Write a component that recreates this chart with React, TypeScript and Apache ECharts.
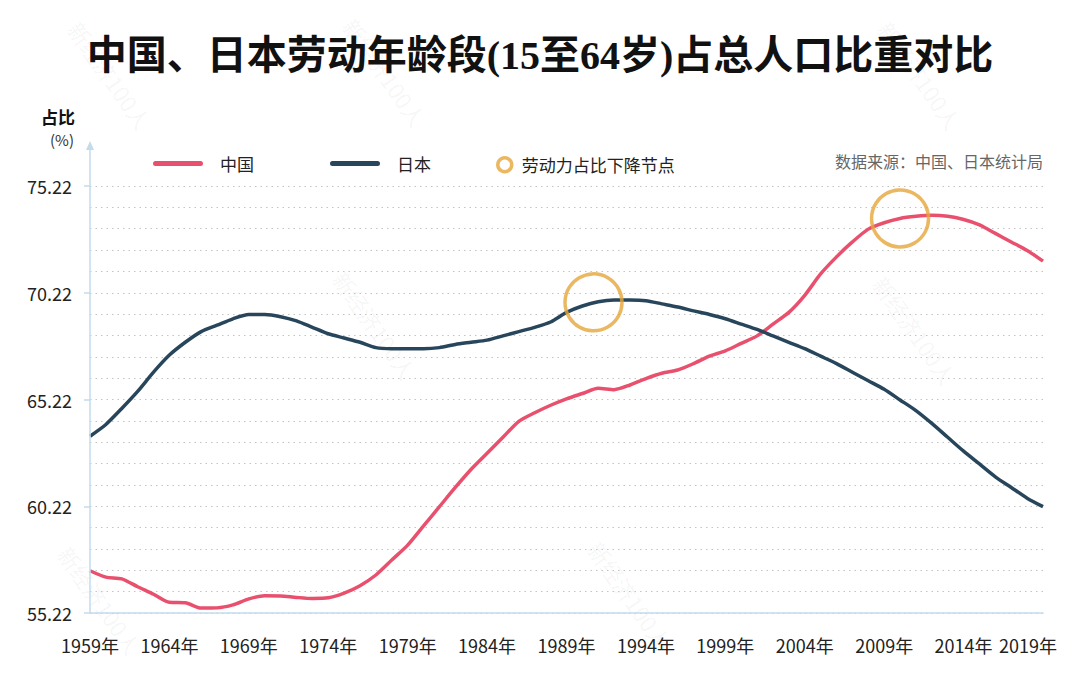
import React, { useEffect, useRef } from 'react';
import * as echarts from 'echarts';

const years = [
  1959, 1960, 1961, 1962, 1963, 1964, 1965, 1966, 1967, 1968,
  1969, 1970, 1971, 1972, 1973, 1974, 1975, 1976, 1977, 1978,
  1979, 1980, 1981, 1982, 1983, 1984, 1985, 1986, 1987, 1988,
  1989, 1990, 1991, 1992, 1993, 1994, 1995, 1996, 1997, 1998,
  1999, 2000, 2001, 2002, 2003, 2004, 2005, 2006, 2007, 2008,
  2009, 2010, 2011, 2012, 2013, 2014, 2015, 2016, 2017, 2018, 2019,
];

const chinaValues = [
  57.2, 56.9, 56.82, 56.45, 56.1, 55.72, 55.7, 55.45, 55.46, 55.6,
  55.88, 56.03, 56.02, 55.95, 55.9, 55.93, 56.15, 56.5, 57.0, 57.7,
  58.4, 59.3, 60.2, 61.1, 61.95, 62.7, 63.45, 64.2, 64.6, 64.95,
  65.25, 65.5, 65.75, 65.68, 65.9, 66.2, 66.45, 66.6, 66.9, 67.25,
  67.5, 67.85, 68.2, 68.75, 69.3, 70.1, 71.1, 71.9, 72.6, 73.2,
  73.5, 73.7, 73.8, 73.85, 73.8, 73.65, 73.4, 73.0, 72.6, 72.2, 71.7,
];

const japanValues = [
  63.5, 64.05, 64.8, 65.6, 66.5, 67.3, 67.9, 68.4, 68.7, 69.0,
  69.2, 69.2, 69.1, 68.9, 68.6, 68.3, 68.1, 67.9, 67.65, 67.6,
  67.6, 67.6, 67.65, 67.8, 67.9, 68.0, 68.2, 68.4, 68.6, 68.85,
  69.3, 69.6, 69.8, 69.88, 69.88, 69.85, 69.7, 69.55, 69.37, 69.2,
  69.0, 68.75, 68.5, 68.2, 67.9, 67.6, 67.25, 66.9, 66.5, 66.1,
  65.7, 65.2, 64.7, 64.1, 63.45, 62.8, 62.2, 61.6, 61.1, 60.6, 60.2,
];

// 劳动力占比下降节点 (year, value)
const dropNodes: [number, number][] = [
  [1990.7, 69.77],
  [2010.0, 73.7],
];

const yMin = 55.22;
const yMax = 75.22;
const xMin = 1959;
const xMax = 2019;

const FONT = '"Noto Sans CJK SC", "Noto Sans", sans-serif';
const RED = '#E8506D';
const NAVY = '#28465B';
const ORANGE = '#E6A63B';
const AXIS_BLUE = '#C3DBEA';

const LINE_ICON = 'path://M2.5,0 L47.5,0 A2.5,2.5 0 0 1 47.5,5 L2.5,5 A2.5,2.5 0 0 1 2.5,0 Z';

const watermarkSpots: [number, number][] = [
  [110, 75], [385, 72], [920, 75],
  [375, 325], [915, 330],
  [100, 600], [630, 595],
];

export default function App() {
  const ref = useRef<HTMLDivElement>(null);

  useEffect(() => {
    if (!ref.current) return;
    const chart = echarts.init(ref.current, undefined, { renderer: 'svg' });

    const china = years.map((y, i) => [y, chinaValues[i]]);
    const japan = years.map((y, i) => [y, japanValues[i]]);

    const watermarks = watermarkSpots.map(([x, y]) => ({
      type: 'text',
      x,
      y,
      rotation: (-55 * Math.PI) / 180,
      z: 0,
      silent: true,
      style: {
        text: '新经济100人',
        fontSize: 22,
        fontFamily: FONT,
        fill: 'rgba(0,0,0,0.05)',
        align: 'center',
        verticalAlign: 'middle',
      },
    }));

    const legendBase = {
      top: 155,
      padding: 0,
      itemWidth: 50,
      itemHeight: 16,
      textStyle: { fontSize: 17, color: '#222', fontFamily: FONT, padding: [0, 0, 0, 12] },
    };

    const option: any = {
      animation: false,
      backgroundColor: '#ffffff',
      title: {
        text: '中国、日本劳动年龄段(15至64岁)占总人口比重对比',
        left: 'center',
        top: 30,
        textStyle: {
          fontSize: 40,
          fontWeight: 'bold',
          color: '#111',
          fontFamily: '"Liberation Serif", "Noto Sans CJK SC", serif',
        },
      },
      legend: [
        {
          ...legendBase,
          left: 153,
          data: [{ name: '中国', icon: LINE_ICON, itemStyle: { color: RED } }],
        },
        {
          ...legendBase,
          left: 330,
          data: [{ name: '日本', icon: LINE_ICON, itemStyle: { color: NAVY } }],
        },
        {
          data: ['劳动力占比下降节点'],
          left: 496,
          top: 156,
          padding: 0,
          itemWidth: 14,
          itemHeight: 14,
          itemStyle: { borderWidth: 3.5, borderColor: ORANGE, color: 'rgba(0,0,0,0)' },
          textStyle: { fontSize: 17, color: '#222', fontFamily: FONT, padding: [0, 0, 0, 5] },
        },
      ],
      grid: { left: 90, right: 37, top: 186, bottom: 76, containLabel: false },
      xAxis: {
        type: 'value',
        min: xMin,
        max: xMax,
        interval: 5,
        axisLine: { show: true, lineStyle: { color: AXIS_BLUE, width: 1.5 } },
        axisTick: { show: false },
        splitLine: { show: false },
        axisLabel: {
          margin: 23,
          fontSize: 18,
          color: '#222',
          fontFamily: FONT,
          formatter: (v: number) => (v === xMax ? `{last|${v}年}` : `${v}年`),
          rich: {
            last: { fontSize: 18, color: '#222', fontFamily: FONT, padding: [0, 30, 0, 0] },
          },
        },
      },
      yAxis: [
        {
          type: 'value',
          min: yMin,
          max: yMax,
          interval: 1,
          axisLine: { show: false },
          axisTick: { show: false },
          axisLabel: { show: false },
          splitLine: {
            show: true,
            lineStyle: { color: '#C4C4C4', type: [1.5, 4], width: 1 },
          },
        },
        {
          type: 'value',
          min: yMin,
          max: yMax,
          interval: 5,
          position: 'left',
          axisLine: { show: false },
          axisTick: { show: true, length: 6, lineStyle: { color: AXIS_BLUE, width: 1.5 } },
          splitLine: { show: false },
          axisLabel: {
            margin: 18,
            fontSize: 18,
            color: '#222',
            fontFamily: FONT,
            formatter: (v: number) => v.toFixed(2),
          },
        },
      ],
      graphic: [
        ...watermarks,
        {
          type: 'line',
          silent: true,
          z: 5,
          shape: { x1: 90, y1: 613, x2: 90, y2: 144 },
          style: { stroke: AXIS_BLUE, lineWidth: 1.5 },
        },
        {
          type: 'polygon',
          silent: true,
          z: 5,
          shape: { points: [[86, 150], [90, 141], [94, 150]] },
          style: { fill: AXIS_BLUE },
        },
        {
          type: 'text',
          x: 75,
          y: 116,
          style: {
            text: '占比',
            fontSize: 17,
            fontWeight: 'bold',
            fontFamily: FONT,
            fill: '#111',
            align: 'right',
            verticalAlign: 'middle',
          },
        },
        {
          type: 'text',
          x: 74,
          y: 139,
          style: {
            text: '(%)',
            fontSize: 15,
            fontFamily: FONT,
            fill: '#333',
            align: 'right',
            verticalAlign: 'middle',
          },
        },
        {
          type: 'text',
          x: 1043,
          y: 161,
          style: {
            text: '数据来源：中国、日本统计局',
            fontSize: 16,
            fontFamily: FONT,
            fill: '#666',
            align: 'right',
            verticalAlign: 'middle',
          },
        },
      ],
      series: [
        {
          name: '中国',
          type: 'line',
          data: china,
          smooth: 0.25,
          symbol: 'none',
          showSymbol: false,
          z: 3,
          itemStyle: { color: RED },
          lineStyle: { color: RED, width: 3.5 },
        },
        {
          name: '日本',
          type: 'line',
          data: japan,
          smooth: 0.25,
          symbol: 'none',
          showSymbol: false,
          z: 3,
          itemStyle: { color: NAVY },
          lineStyle: { color: NAVY, width: 3.5 },
        },
        {
          name: '劳动力占比下降节点',
          type: 'scatter',
          data: dropNodes,
          symbol: 'circle',
          symbolSize: 57,
          z: 4,
          itemStyle: { color: 'rgba(0,0,0,0)', borderColor: ORANGE, borderWidth: 3.5 },
        },
      ],
    };

    chart.setOption(option);
    return () => chart.dispose();
  }, []);

  return (
    <div
      ref={ref}
      style={{ position: 'absolute', left: 0, top: 0, width: 1080, height: 689, background: '#fff' }}
    />
  );
}
